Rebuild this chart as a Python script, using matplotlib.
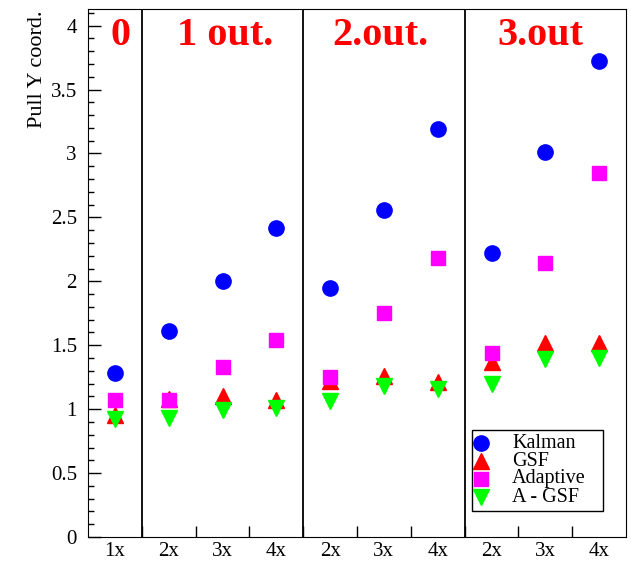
import matplotlib.pyplot as plt
from matplotlib.patches import Rectangle
import numpy as np

plt.rcParams['font.family'] = ['Liberation Serif', 'DejaVu Serif']

# categories along x (one bin each), groups separated by vertical lines
labels_x = ["1x", "2x", "3x", "4x", "2x", "3x", "4x", "2x", "3x", "4x"]
groupes = ["0", "1 out.", "2.out.", "3.out"]
centres_groupes = [0.6, 2.55, 5.43, 8.4]
bornes = [1, 4, 7]

kalman = [1.28, 1.61, 2.00, 2.42, 1.95, 2.56, 3.19, 2.22, 3.01, 3.72]
gsf = [0.955, 1.08, 1.10, 1.07, 1.22, 1.26, 1.21, 1.37, 1.52, 1.52]
adaptive = [1.07, 1.07, 1.33, 1.54, 1.25, 1.75, 2.18, 1.44, 2.14, 2.85]
agsf = [0.92, 0.93, 0.995, 1.01, 1.065, 1.18, 1.16, 1.20, 1.39, 1.40]

W, H = 632, 562
fig = plt.figure(figsize=(W/100, H/100), dpi=100)
ax = fig.add_axes([88/W, 25/H, 538/W, 528/H])

series = [
    (kalman, 'o', '#0000ff', 11, "Kalman"),
    (gsf, '^', '#ff0000', 11, "GSF"),
    (adaptive, 's', '#ff00ff', 10, "Adaptive"),
    (agsf, 'v', '#00ff00', 11, "A - GSF"),
]

x = np.arange(len(labels_x)) + 0.5
for vals, m, c, ms, lab in series:
    ax.plot(x, vals, m, color=c, markersize=ms, linestyle='none')

ax.set_xlim(0, 10)
ax.set_ylim(0, 4.13)

for b in bornes:
    ax.axvline(b, color='black', linewidth=1.3)

ax.set_xticks(np.arange(1, 10))
ax.set_xticklabels([])
ax.tick_params(axis='x', direction='in', length=8, width=1, top=False)
for xi, lab in zip(x, labels_x):
    ax.text(xi, -14/528, lab, ha='center', va='center', fontsize=15,
            transform=ax.get_xaxis_transform())

ax.set_yticks(np.arange(0, 4.01, 0.5))
ax.set_yticklabels(["0", "0.5", "1", "1.5", "2", "2.5", "3", "3.5", "4"])
ax.set_yticks(np.arange(0, 4.13, 0.1), minor=True)
ax.tick_params(axis='y', which='major', direction='in', length=9, width=1, labelsize=15, pad=8)
ax.tick_params(axis='y', which='minor', direction='in', length=4.5, width=1)

for c, g in zip(centres_groupes, groupes):
    ax.text(c, 3.85, g, ha='center', va='baseline', color='red', fontsize=29,
            fontweight='bold')

fig.text(37/W, 1 - 10/H, "Pull Y coord.", rotation=90, ha='center', va='top',
         fontsize=16)

# legend box drawn by hand (pixel coordinates converted to axes fractions)
def ax_frac(px, py):
    return (px - 88) / 538, (537 - py) / 528

x0, y0 = ax_frac(472, 511)
x1, y1 = ax_frac(603, 430)
ax.add_patch(Rectangle((x0, y0), x1 - x0, y1 - y0, transform=ax.transAxes,
                       facecolor='white', edgecolor='black', linewidth=1, zorder=5))
lignes_y = [443, 461, 479, 497]
for (vals, m, c, ms, lab), py in zip(series, lignes_y):
    mx, my = ax_frac(481, py)
    ax.plot([mx], [my], m, color=c, markersize=ms, transform=ax.transAxes,
            zorder=6, clip_on=False)
    tx, ty = ax_frac(512, py)
    ax.text(tx, ty, lab, ha='left', va='center', fontsize=14.5,
            transform=ax.transAxes, zorder=6)

fig.savefig("out.png", dpi=100)
